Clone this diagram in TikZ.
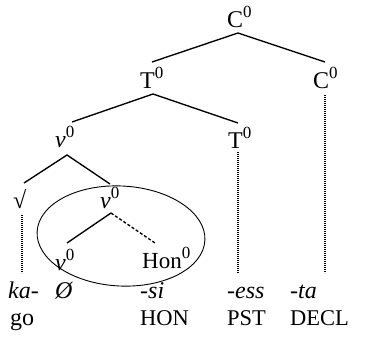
\documentclass[tikz,border=0pt]{standalone}
\usepackage{fontspec}
\setmainfont{Liberation Serif}
\newcommand\zsup{\raisebox{10pt}{\fontsize{17}{17}\selectfont 0}}
\begin{document}
\begin{tikzpicture}[x=1pt,y=-1pt,
  lbl/.style={anchor=base west,inner sep=0pt,font=\fontsize{24}{28}\selectfont},
  glosscap/.style={anchor=base west,inner sep=0pt,font=\fontsize{22.5}{26}\selectfont},
  branch/.style={line width=1.35pt},
  dashbranch/.style={line width=1.35pt,dash pattern=on 3pt off 2pt},
  dotline/.style={line width=1.1pt,dash pattern=on 0.8pt off 1.2pt},
  ring/.style={line width=0.9pt}]
\useasboundingbox (0,0) rectangle (371,337);
% tree labels
\node[lbl] (c1) at (227,28) {C\zsup};
\node[lbl] (t1) at (140,88) {T\zsup};
\node[lbl] (c2) at (313,88) {C\zsup};
\node[lbl] (v1) at (55,147) {\textit{v}\zsup};
\node[lbl] (t2) at (228,148) {T\zsup};
\node[lbl] (sq) at (13,208) {√};
\node[lbl] (v2) at (100,208) {\textit{v}\zsup};
\node[lbl] (v3) at (55,270) {\textit{v}\zsup};
\node[lbl,font=\fontsize{23}{27}\selectfont] (hon) at (142,268) {Hon\zsup};
% morphemes
\node[lbl] (ka) at (8,298) {\textit{ka-}};
\node[lbl] (nul) at (55,298) {\textit{Ø}};
\node[lbl] (si) at (140,298) {\textit{-si}};
\node[lbl] (ess) at (227,298) {\textit{-ess}};
\node[lbl] (ta) at (290,298) {\textit{-ta}};
% glosses
\node[lbl] (go) at (10,325) {go};
\node[glosscap] (ghon) at (140,325) {HON};
\node[glosscap] (gpst) at (227,325) {PST};
\node[glosscap] (gdecl) at (290,325) {DECL};
% dotted line ends
\coordinate (e1) at (22,273);
\coordinate (e2) at (238,273);
\coordinate (e3) at (325,273);
% branches
\draw[branch] ([shift={(12,-26)}]t1.base west) -- ([shift={(11,5)}]c1.base west) -- ([shift={(12,-26)}]c2.base west);
\draw[branch] ([shift={(17,-25)}]v1.base west) -- ([shift={(13,6)}]t1.base west) -- ([shift={(10,-25)}]t2.base west);
\draw[branch] ([shift={(11,-25)}]sq.base west) -- ([shift={(12,8)}]v1.base west) -- ([shift={(10,-24)}]v2.base west);
\draw[branch] ([shift={(12,-27)}]v3.base west) -- ([shift={(11,5)}]v2.base west);
\draw[dashbranch] ([shift={(11,5)}]v2.base west) -- ([shift={(13,-25)}]hon.base west);
% dotted lines
\draw[dotline] ([shift={(9,7)}]sq.base west) -- (e1);
\draw[dotline] ([shift={(10,4)}]t2.base west) -- (e2);
\draw[dotline] ([shift={(12,7)}]c2.base west) -- (e3);
% ellipse
\draw[ring,rotate around={-3:(121,236)}] (121,236) ellipse [x radius=84, y radius=50];
\end{tikzpicture}
\end{document}
